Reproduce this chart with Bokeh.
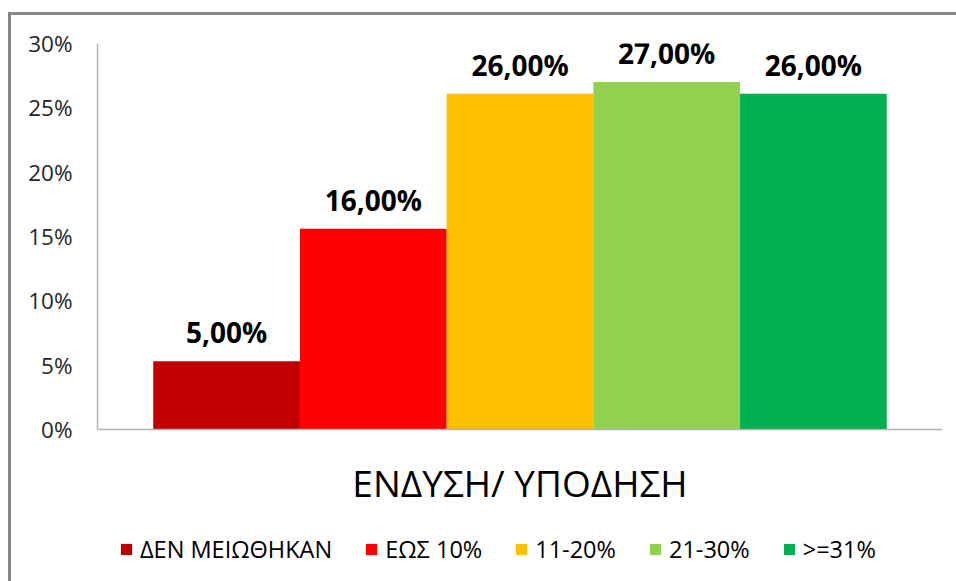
from bokeh.plotting import figure
from bokeh.models import (ColumnDataSource, Legend, LegendItem, FixedTicker,
                          CustomJSTickFormatter, Span)
from bokeh.core.properties import value
from bokeh.embed import file_html
from bokeh.resources import INLINE

# ---- data ----
categories = ["ΔΕΝ ΜΕΙΩΘΗΚΑΝ", "ΕΩΣ 10%", "11-20%", "21-30%", ">=31%"]
values = [5.3, 15.6, 26.1, 27.0, 26.1]
data_labels = ["5,00%", "16,00%", "26,00%", "27,00%", "26,00%"]
colors = ["#C00000", "#FF0000", "#FFC000", "#92D050", "#00B050"]
y_ticks = [0, 5, 10, 15, 20, 25, 30]
axis_title = "ΕΝΔΥΣΗ/ ΥΠΟΔΗΣΗ"

FONT = "Open Sans"

# ---- layout (pixels) ----
W, H = 956, 581
LEFT, TOP = 97, 43
FRAME_W = 845
RIGHT = W - LEFT - FRAME_W
FRAME_H = H - TOP
PLOT_H = 386            # height of the 0..30 % value band
Y_MAX = y_ticks[-1]
y_min = Y_MAX - FRAME_H * Y_MAX / PLOT_H   # extra room below 0 for title + legend

src = ColumnDataSource(dict(
    x=list(range(len(categories))),
    top=values,
    color=colors,
    label=data_labels,
    name=categories,
))

p = figure(
    output_backend="svg", toolbar_location=None,
    frame_width=FRAME_W, frame_height=FRAME_H,
    min_border_left=LEFT, min_border_right=RIGHT,
    min_border_top=TOP, min_border_bottom=0,
    x_range=(-0.88, len(categories) - 1 + 0.88), y_range=(y_min, Y_MAX),
    background_fill_color="white", border_fill_alpha=0,
)
# chart-area box edges (left and top), drawn behind the transparent canvas
p.styles = {"box-shadow": "inset 8px 0 0 0 #ffffff, inset 0 12px 0 0 #ffffff, "
                          "inset 11px 0 0 0 #878787, inset 0 15px 0 0 #878787"}
p.outline_line_color = None
p.grid.visible = False
p.xaxis.visible = False

bars = p.vbar(x="x", top="top", width=1.0, bottom=0, color="color",
              line_color=None, source=src)

p.text(x="x", y="top", text="label", source=src,
       text_align="center", text_baseline="middle", y_offset=-29,
       text_font=value(FONT), text_font_style="bold",
       text_font_size="28px", text_color="#000000")

# category axis line at 0 %
p.add_layout(Span(location=0, dimension="width", line_color="#B3B3B3",
                  line_width=1.5))

# axis title under the bars
p.text(x=[(len(categories) - 1) / 2], y=[0], text=[axis_title],
       text_align="center", text_baseline="middle", y_offset=53,
       text_font=value(FONT), text_font_size="37px", text_color="#000000")

# y axis
p.yaxis.bounds = (0, Y_MAX)
p.yaxis.ticker = FixedTicker(ticks=y_ticks)
p.yaxis.formatter = CustomJSTickFormatter(code="return tick.toFixed(0) + '%';")
p.yaxis.major_tick_line_color = None
p.yaxis.minor_tick_line_color = None
p.yaxis.major_tick_out = 0
p.yaxis.major_tick_in = 0
p.yaxis.major_label_standoff = 25
p.yaxis.axis_line_color = "#B3B3B3"
p.yaxis.axis_line_width = 1.5
p.yaxis.major_label_text_font = FONT
p.yaxis.major_label_text_font_size = "22.5px"
p.yaxis.major_label_text_color = "#262626"

legend = Legend(
    items=[LegendItem(label=c, renderers=[bars], index=i)
           for i, c in enumerate(categories)],
    orientation="horizontal", location=(22, 16),
    glyph_width=14, glyph_height=14, label_standoff=7, spacing=32,
    padding=0, margin=0, border_line_color=None, background_fill_alpha=0,
    label_text_font=FONT, label_text_font_size="23.5px",
    label_text_color="#000000",
)
p.add_layout(legend, "center")

open("out.html", "w").write(file_html(p, INLINE))
